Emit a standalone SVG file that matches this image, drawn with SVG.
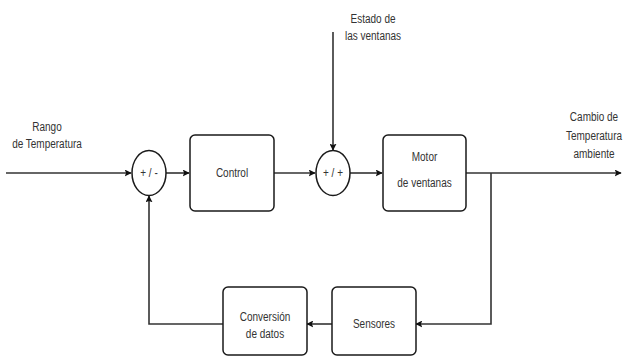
<svg xmlns="http://www.w3.org/2000/svg" width="623" height="360" viewBox="0 0 623 360">
  <style>
    .box { fill: #ffffff; stroke: #1a1a1a; stroke-width: 1.5; }
    .sum { fill: #ffffff; stroke: #1a1a1a; stroke-width: 1.5; }
    .wire { fill: none; stroke: #333333; stroke-width: 1.6; }
    .lbl { font-family: "Liberation Sans", Arial, sans-serif; font-size: 10px; fill: #333333; text-anchor: middle; }
  </style>
  <defs>
    <marker id="arrow" viewBox="0 0 10 10" refX="9" refY="5" markerWidth="7" markerHeight="7" markerUnits="userSpaceOnUse" orient="auto">
      <path d="M0,0 L10,5 L0,10 L2,5 Z" fill="#111111"/>
    </marker>
  </defs>
  <rect width="623" height="360" fill="#ffffff"/>

  <!-- connectors -->
  <g id="connectors">
    <path class="wire" d="M6,173 H131" marker-end="url(#arrow)"/>
    <path class="wire" d="M166,173 H189" marker-end="url(#arrow)"/>
    <path class="wire" d="M274,173 H315" marker-end="url(#arrow)"/>
    <path class="wire" d="M333,32 V150" marker-end="url(#arrow)"/>
    <path class="wire" d="M350,173 H382" marker-end="url(#arrow)"/>
    <path class="wire" d="M466,173 H621" marker-end="url(#arrow)"/>
    <path class="wire" d="M491,173 V324 H416" marker-end="url(#arrow)"/>
    <path class="wire" d="M332,324 H307" marker-end="url(#arrow)"/>
    <path class="wire" d="M223,324 H149 V196" marker-end="url(#arrow)"/>
  </g>

  <!-- free labels -->
  <g id="label-rango">
    <text class="lbl" transform="translate(47,131) scale(1,1.35)">Rango</text>
    <text class="lbl" transform="translate(47,148) scale(1,1.35)">de Temperatura</text>
  </g>
  <g id="label-estado">
    <text class="lbl" transform="translate(373,23) scale(1,1.35)">Estado de</text>
    <text class="lbl" transform="translate(373,40) scale(1,1.35)">las ventanas</text>
  </g>
  <g id="label-cambio">
    <text class="lbl" transform="translate(594,121) scale(1,1.35)">Cambio de</text>
    <text class="lbl" transform="translate(594,140) scale(1,1.35)">Temperatura</text>
    <text class="lbl" transform="translate(594,158) scale(1,1.35)">ambiente</text>
  </g>

  <!-- summing junctions -->
  <g id="sum1">
    <ellipse class="sum" cx="149" cy="173" rx="17" ry="22.5"/>
    <text class="lbl" transform="translate(149,176.5) scale(1,1.35)">+ / -</text>
  </g>
  <g id="sum2">
    <ellipse class="sum" cx="333" cy="173" rx="17" ry="22.5"/>
    <text class="lbl" transform="translate(333,176.5) scale(1,1.35)">+ / +</text>
  </g>

  <!-- blocks -->
  <g id="control">
    <rect class="box" x="190" y="135" width="84" height="76" rx="5"/>
    <text class="lbl" transform="translate(232,176.5) scale(1,1.35)">Control</text>
  </g>
  <g id="motor">
    <rect class="box" x="383" y="135" width="83" height="76" rx="5"/>
    <text class="lbl" transform="translate(424.5,160.5) scale(1,1.35)">Motor</text>
    <text class="lbl" transform="translate(424.5,186.5) scale(1,1.35)">de ventanas</text>
  </g>
  <g id="sensores">
    <rect class="box" x="332" y="287" width="84" height="68" rx="5"/>
    <text class="lbl" transform="translate(374,328) scale(1,1.35)">Sensores</text>
  </g>
  <g id="conversion">
    <rect class="box" x="223" y="287" width="84" height="68" rx="5"/>
    <text class="lbl" transform="translate(265,320.5) scale(1,1.35)">Conversión</text>
    <text class="lbl" transform="translate(265,338) scale(1,1.35)">de datos</text>
  </g>
</svg>
